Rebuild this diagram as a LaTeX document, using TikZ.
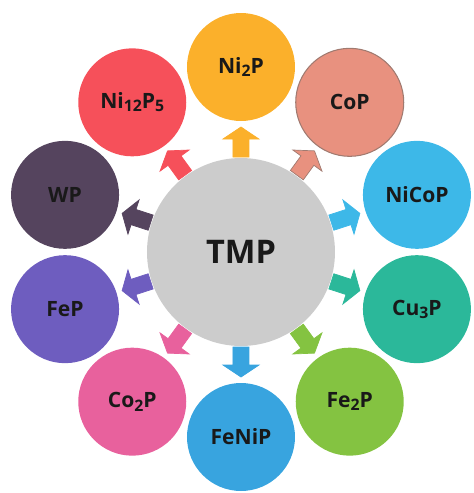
\documentclass[tikz,border=0pt]{standalone}
\usepackage{fontspec}
\setmainfont{Open Sans}
\usepackage{tikz}
\usetikzlibrary{positioning,calc}
\usepackage{xcolor}
\definecolor{corecol}{HTML}{CCCCCC}
\definecolor{ni2pcol}{HTML}{FBB02B}
\definecolor{copcol}{HTML}{E8917F}
\definecolor{copline}{HTML}{A07A70}
\definecolor{nicopcol}{HTML}{3DB8E8}
\definecolor{cu3pcol}{HTML}{2BB89A}
\definecolor{fe2pcol}{HTML}{84C341}
\definecolor{fenipcol}{HTML}{38A4DF}
\definecolor{co2pcol}{HTML}{E8619D}
\definecolor{fepcol}{HTML}{6E5DBF}
\definecolor{wpcol}{HTML}{55445E}
\definecolor{ni12p5col}{HTML}{F6505A}
\newcommand{\sbs}[1]{\raisebox{-0.3ex}{\fontsize{9}{10}\selectfont #1}}
\tikzstyle{core} = [circle, minimum size=3.76cm, inner sep=0pt, fill=corecol, text=black!90, font=\bfseries\fontsize{18.5}{22}\selectfont]
\tikzstyle{phosphide} = [circle, minimum size=2.16cm, inner sep=0pt, text=black!90, font=\bfseries\fontsize{12}{14}\selectfont]
\tikzstyle{blockarrow} = [line join=miter]

\begin{document}
\begin{tikzpicture}
    \useasboundingbox (-4.82,-4.82) rectangle (4.66,5.04);
    % Centre
    \node (tmp) [core] at (0,0) {TMP};
    % Phosphides, clockwise from the top
    \node (ni2p) [phosphide, fill=ni2pcol] at (90:3.7) {Ni\sbs{2}P};
    \node (cop) [phosphide, fill=copcol, draw=copline, line width=0.6pt] at (54:3.7) {CoP};
    \node (nicop) [phosphide, fill=nicopcol] at (18:3.7) {NiCoP};
    \node (cu3p) [phosphide, fill=cu3pcol] at (-18:3.7) {Cu\sbs{3}P};
    \node (fe2p) [phosphide, fill=fe2pcol] at (-54:3.7) {Fe\sbs{2}P};
    \node (fenip) [phosphide, fill=fenipcol] at (-90:3.7) {FeNiP};
    \node (co2p) [phosphide, fill=co2pcol] at (-126:3.7) {Co\sbs{2}P};
    \node (fep) [phosphide, fill=fepcol] at (-162:3.7) {FeP};
    \node (wp) [phosphide, fill=wpcol] at (162:3.7) {WP};
    \node (ni12p5) [phosphide, fill=ni12p5col] at (126:3.7) {Ni\sbs{12}P\sbs{5}};

    % Block arrows from TMP to each phosphide
    \foreach \ang/\col/\edge in {90/ni2pcol/ni2pcol, 54/copcol/copline, 18/nicopcol/nicopcol,
        -18/cu3pcol/cu3pcol, -54/fe2pcol/fe2pcol, -90/fenipcol/fenipcol, -126/co2pcol/co2pcol,
        -162/fepcol/fepcol, 162/wpcol/wpcol, 126/ni12p5col/ni12p5col} {
        \begin{scope}[shift={(tmp.center)}, rotate=\ang]
            \filldraw [blockarrow, fill=\col, draw=\edge, line width=0.4pt]
                (1.9,-0.16) -- (2.26,-0.16) -- (2.26,-0.36) -- (2.5,0)
                -- (2.26,0.36) -- (2.26,0.16) -- (1.9,0.16) -- cycle;
        \end{scope}
    }
\end{tikzpicture}
\end{document}
